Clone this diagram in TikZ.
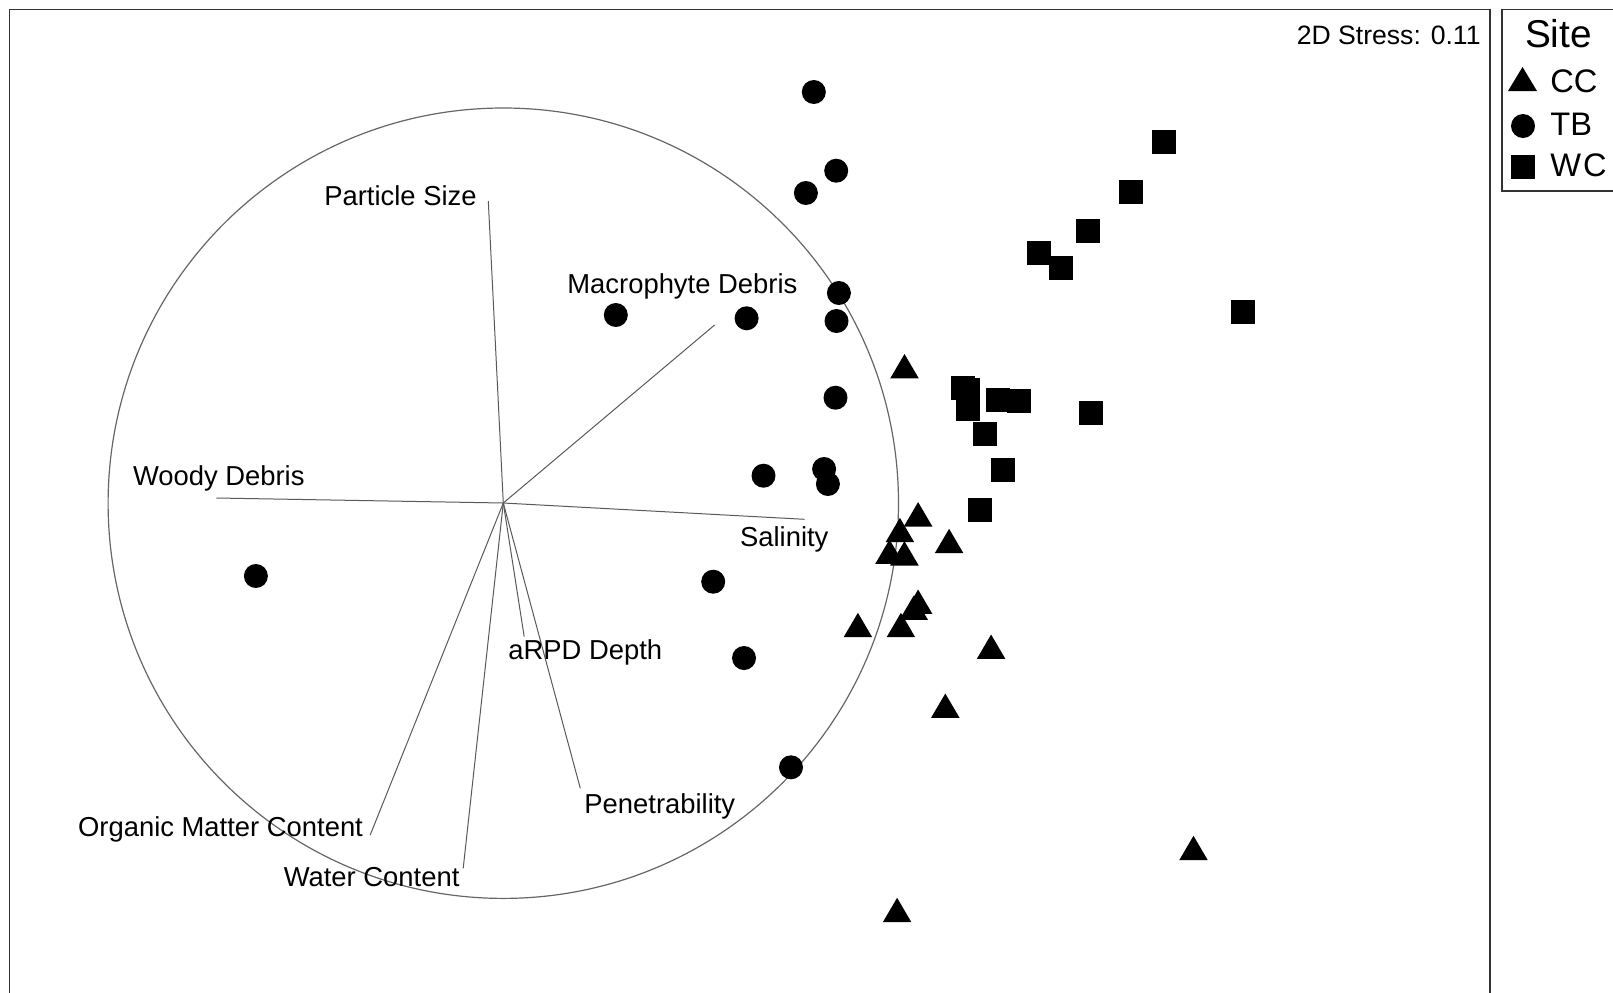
\documentclass[tikz,border=0pt]{standalone}
\usepackage{fontspec}
\setmainfont{Liberation Sans}
\begin{document}
\begin{tikzpicture}[x=0.5pt,y=-0.5pt,
  lbl/.style={inner sep=0pt,font=\fontsize{13.7pt}{16pt}\selectfont},
  leg/.style={inner sep=0pt,font=\fontsize{16.3pt}{19pt}\selectfont},
  vec/.style={draw=black!65,line width=0.5pt}]
\useasboundingbox (0,0) rectangle (1613,992);
\draw[black!80,line width=0.75pt] (9.5,1000) -- (9.5,9.5) -- (1490,9.5) -- (1490,1000);
\draw[black!80,line width=0.75pt] (1614,9.5) -- (1502,9.5) -- (1502,191) -- (1614,191);
\draw[black!60,line width=0.6pt] (503.3,503.2) circle [radius=197.6pt];
\coordinate (o) at (503.3,503);
\coordinate (ps) at (488.3,201);
\coordinate (md) at (714.6,325);
\coordinate (wd) at (216.3,498);
\coordinate (sa) at (804.5,519.3);
\coordinate (ar) at (524.2,636.7);
\coordinate (pe) at (580.3,788.3);
\coordinate (wa) at (463.2,868.3);
\coordinate (om) at (370.2,835);
\foreach \e in {ps,md,wd,sa,ar,pe,wa,om}{
  \draw[vec] (o) -- (\e);
}
\node[lbl,anchor=base east] (psl) at (477,205.7) {Particle Size};
\node[lbl,anchor=base west] (mdl) at (567,293.3) {Macrophyte Debris};
\node[lbl,anchor=base west] (wdl) at (132.6,485) {Woody Debris};
\node[lbl,anchor=base west] (sal) at (739.7,546.5) {Salinity};
\node[lbl,anchor=base west] (arl) at (508,659) {aRPD Depth};
\node[lbl,anchor=base west] (pel) at (584,813.3) {Penetrability};
\node[lbl,anchor=base east] (oml) at (363.3,836) {Organic Matter Content};
\node[lbl,anchor=base east] (wal) at (459.8,886) {Water Content};
\node[lbl,anchor=base east,font=\fontsize{13.3pt}{16pt}\selectfont] (stress) at (1481,44.3) {2D Stress: 0.11};
\foreach \x/\y in {813.8/92,836.2/170.7,805.9/193,838.9/293,615.8/315,746.6/318.3,836.5/321,
  835.5/397.7,763.5/475.7,824.1/469,827.9/484,713.2/581.7,744/658,791/767.3,255.9/576}{
  \fill (\x,\y) circle [radius=6pt];
}
\foreach \x/\y in {904.5/366.2,918.1/514.3,899.9/530,949.1/541,889.5/551.7,904.4/553.3,918.1/601.7,
  913.7/607.7,857.9/625,900.9/625,991.1/646.7,945.3/705.7,897.1/910,1193.5/848}{
  \fill (\x-14.3,\y+12.2) -- (\x+14.3,\y+12.2) -- (\x,\y-12.2) -- cycle;
}
\foreach \x/\y in {1164.3/141.7,1131/192,1087.5/231,1242.8/312.3,1038.7/253.3,1060.7/267.7,962.5/387.7,
  968.3/389.5,967.7/408.7,998.3/399.7,1019/401,1090.5/413.2,985/434.3,1002.5/470,979.7/509.5}{
  \fill (\x-12,\y-12) rectangle (\x+12,\y+12);
}
\node[inner sep=0pt,anchor=base,font=\fontsize{19.4pt}{23pt}\selectfont] (site) at (1558.5,47) {Site};
\fill (1508,91) -- (1537,91) -- (1522.5,67) -- cycle;
\fill (1523,126) circle [radius=6pt];
\fill (1510.5,155) rectangle (1534.5,179);
\node[leg,anchor=base west] (cc) at (1550,92.7) {CC};
\node[leg,anchor=base west] (tb) at (1550,135) {TB};
\node[leg,anchor=base west] (wc) at (1550,176.7) {W\kern1pt C};
\end{tikzpicture}
\end{document}
